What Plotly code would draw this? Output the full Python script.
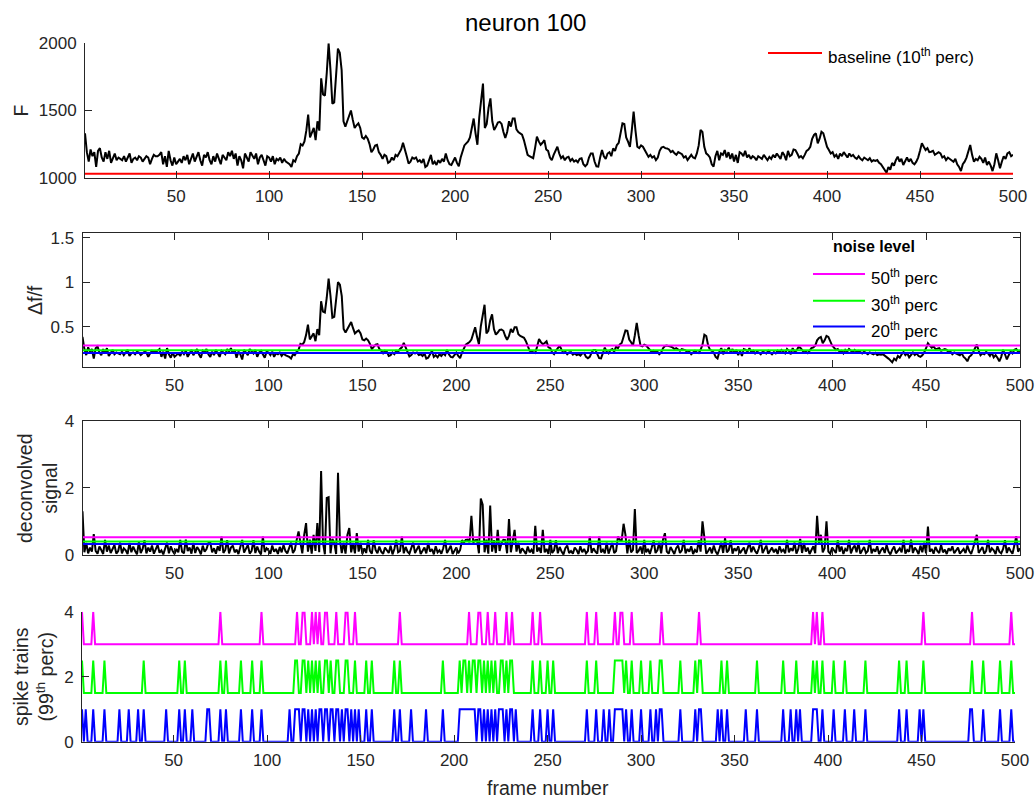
import plotly.graph_objects as go

# ---------------- data ----------------
F = [
    1330, 1190, 1120, 1210, 1160, 1190, 1080, 1200, 1220, 1150,
    1120, 1190, 1140, 1200, 1110, 1150, 1180, 1130, 1150, 1140,
    1130, 1160, 1120, 1150, 1180, 1110, 1140, 1150, 1130, 1160,
    1150, 1120, 1140, 1160, 1150, 1100, 1140, 1170, 1160, 1160,
    1170, 1190, 1100, 1160, 1080, 1200, 1130, 1090, 1150, 1100,
    1120, 1140, 1110, 1160, 1130, 1170, 1100, 1150, 1180, 1120,
    1160, 1190, 1130, 1090, 1170, 1150, 1190, 1130, 1100, 1160,
    1120, 1180, 1140, 1100, 1170, 1150, 1130, 1190, 1160, 1200,
    1140, 1180, 1090, 1160, 1130, 1070, 1180, 1150, 1120, 1190,
    1160, 1140, 1180, 1100, 1150, 1170, 1130, 1090, 1160, 1150,
    1120, 1160, 1100, 1140, 1130, 1150, 1110, 1140, 1120, 1110,
    1100, 1080, 1130, 1120, 1160, 1180, 1250, 1240, 1270, 1350,
    1470, 1300, 1330, 1370, 1280, 1420, 1350, 1740, 1620, 1610,
    1780, 2000, 1800, 1550, 1560, 1750, 1960, 1930, 1800, 1420,
    1380, 1420, 1470, 1500, 1430, 1370, 1390, 1405, 1370, 1300,
    1290, 1310, 1290, 1250, 1190, 1210, 1240, 1245, 1190, 1170,
    1140, 1170, 1160, 1110, 1120, 1150, 1130, 1170, 1160, 1190,
    1210, 1260, 1200, 1160, 1105, 1120, 1150, 1140, 1150, 1120,
    1130, 1110, 1140, 1080, 1090, 1130, 1170, 1100, 1120, 1095,
    1130, 1110, 1140, 1120, 1180, 1130, 1100, 1095, 1130, 1150,
    1110, 1085, 1150, 1200, 1240, 1255, 1270, 1300, 1380, 1440,
    1330, 1245, 1450, 1600, 1700, 1370, 1400, 1520, 1590, 1420,
    1355, 1380, 1410, 1415, 1400, 1340, 1295, 1340, 1420, 1380,
    1440, 1440, 1360, 1340, 1330, 1320, 1280, 1230, 1170, 1160,
    1150, 1145, 1220, 1305, 1270, 1245, 1260, 1280, 1210, 1200,
    1150, 1130, 1170, 1200, 1230, 1180, 1145, 1160, 1130, 1150,
    1155, 1125, 1140, 1120, 1130, 1115, 1140, 1145, 1100, 1085,
    1100, 1150, 1180, 1180, 1120, 1085, 1082, 1150, 1206, 1160,
    1140, 1180, 1190, 1160, 1218, 1200, 1243, 1260, 1330, 1405,
    1400, 1300, 1268, 1230, 1350, 1491, 1350, 1230, 1220, 1240,
    1230, 1200, 1180, 1155, 1170, 1150, 1160, 1131, 1150, 1200,
    1225, 1230, 1220, 1218, 1210, 1190, 1200, 1181, 1170, 1190,
    1181, 1175, 1150, 1160, 1131, 1150, 1170, 1150, 1144, 1181,
    1240, 1355, 1340, 1230, 1181, 1170, 1150, 1100, 1082, 1160,
    1200, 1130, 1180, 1170, 1206, 1150, 1190, 1140, 1180, 1120,
    1170, 1110, 1190, 1180, 1160, 1200, 1150, 1170, 1140, 1160,
    1150, 1130, 1160, 1150, 1140, 1170, 1145, 1130, 1155, 1140,
    1170, 1150, 1180, 1160, 1140, 1190, 1170, 1130, 1200, 1160,
    1170, 1210, 1206, 1180, 1150, 1160, 1144, 1170, 1200, 1210,
    1230, 1290, 1318, 1330, 1256, 1290, 1342, 1330, 1280, 1230,
    1206, 1180, 1190, 1156, 1170, 1140, 1180, 1160, 1190, 1170,
    1150, 1180, 1160, 1170, 1150, 1140, 1160, 1140, 1130, 1150,
    1140, 1130, 1145, 1120, 1130, 1125, 1131, 1110, 1100, 1080,
    1060, 1037, 1080, 1060, 1110, 1090, 1130, 1156, 1120, 1140,
    1095, 1130, 1150, 1120, 1140, 1110, 1100, 1119, 1150, 1200,
    1256, 1230, 1206, 1220, 1190, 1193, 1200, 1170, 1180, 1190,
    1181, 1150, 1160, 1131, 1150, 1140, 1130, 1119, 1140, 1100,
    1080, 1049, 1100, 1119, 1150, 1200, 1243, 1170, 1119, 1140,
    1130, 1156, 1140, 1110, 1150, 1095, 1120, 1090, 1049, 1100,
    1181, 1130, 1070, 1119, 1160, 1140, 1181, 1190, 1160, 1170,
]

deconv = [
    1.30, 0.08, 0.36, 0.05, 0.22, 0.10, 0.62, 0.12, 0.04, 0.25,
    0.15, 0.03, 0.45, 0.10, 0.28, 0.06, 0.18, 0.30, 0.04, 0.12,
    0.37, 0.05, 0.20, 0.14, 0.03, 0.36, 0.08, 0.25, 0.12, 0.02,
    0.38, 0.06, 0.18, 0.44, 0.05, 0.22, 0.10, 0.28, 0.04, 0.16,
    0.30, 0.07, 0.14, 0.02, 0.20, 0.37, 0.05, 0.26, 0.12, 0.03,
    0.18, 0.08, 0.45, 0.10, 0.05, 0.46, 0.12, 0.22, 0.04, 0.36,
    0.06, 0.24, 0.15, 0.02, 0.28, 0.10, 0.18, 0.36, 0.38, 0.08,
    0.20, 0.04, 0.26, 0.12, 0.55, 0.06, 0.15, 0.44, 0.05, 0.22,
    0.28, 0.08, 0.16, 0.03, 0.24, 0.45, 0.07, 0.18, 0.30, 0.04,
    0.12, 0.44, 0.06, 0.25, 0.10, 0.02, 0.55, 0.09, 0.20, 0.14,
    0.04, 0.28, 0.10, 0.18, 0.03, 0.24, 0.08, 0.30, 0.12, 0.05,
    0.20, 0.37, 0.06, 0.15, 0.45, 0.70, 0.36, 0.05, 0.60, 0.95,
    0.10, 0.46, 0.04, 0.60, 0.12, 0.95, 0.08, 2.50, 0.37, 0.02,
    1.70, 1.72, 0.05, 0.48, 0.36, 0.03, 2.45, 0.45, 0.06, 0.37,
    0.04, 0.60, 0.80, 0.08, 0.36, 0.05, 0.65, 0.10, 0.37, 0.03,
    0.20, 0.06, 0.45, 0.12, 0.04, 0.44, 0.15, 0.05, 0.25, 0.10,
    0.03, 0.22, 0.14, 0.06, 0.28, 0.02, 0.18, 0.45, 0.08, 0.12,
    0.55, 0.05, 0.24, 0.10, 0.04, 0.20, 0.37, 0.06, 0.15, 0.28,
    0.03, 0.12, 0.22, 0.05, 0.36, 0.10, 0.18, 0.02, 0.26, 0.08,
    0.14, 0.04, 0.20, 0.45, 0.06, 0.16, 0.28, 0.03, 0.12, 0.22,
    0.05, 0.15, 0.44, 0.37, 0.45, 0.46, 0.38, 1.17, 0.37, 0.44,
    0.45, 0.05, 1.68, 1.50, 0.08, 0.46, 0.04, 1.47, 0.10, 0.44,
    0.06, 0.75, 0.12, 0.36, 0.45, 0.44, 0.05, 1.07, 0.08, 0.46,
    0.75, 0.10, 0.37, 0.05, 0.20, 0.12, 0.03, 0.25, 0.08, 0.16,
    0.04, 0.87, 0.10, 0.22, 0.06, 0.75, 0.08, 0.18, 0.03, 0.45,
    0.06, 0.14, 0.44, 0.05, 0.24, 0.10, 0.02, 0.20, 0.28, 0.06,
    0.12, 0.04, 0.22, 0.15, 0.03, 0.26, 0.08, 0.18, 0.05, 0.12,
    0.55, 0.06, 0.20, 0.10, 0.04, 0.55, 0.08, 0.16, 0.05, 0.37,
    0.04, 0.20, 0.36, 0.06, 0.12, 0.55, 0.45, 0.44, 0.93, 0.60,
    0.05, 0.46, 0.08, 0.15, 1.37, 0.06, 0.12, 0.25, 0.04, 0.45,
    0.08, 0.18, 0.03, 0.22, 0.44, 0.06, 0.14, 0.37, 0.05, 0.46,
    0.65, 0.10, 0.04, 0.24, 0.12, 0.03, 0.20, 0.28, 0.06, 0.14,
    0.45, 0.05, 0.18, 0.10, 0.26, 0.03, 0.15, 0.08, 0.44, 0.10,
    1.00, 0.45, 0.04, 0.12, 0.22, 0.05, 0.28, 0.10, 0.02, 0.18,
    0.37, 0.06, 0.50, 0.08, 0.15, 0.44, 0.04, 0.20, 0.12, 0.26,
    0.05, 0.14, 0.22, 0.03, 0.18, 0.37, 0.08, 0.25, 0.12, 0.04,
    0.20, 0.45, 0.06, 0.15, 0.28, 0.04, 0.12, 0.22, 0.08, 0.18,
    0.03, 0.26, 0.10, 0.16, 0.05, 0.45, 0.08, 0.20, 0.12, 0.37,
    0.04, 0.18, 0.48, 0.06, 0.36, 0.10, 0.22, 0.03, 0.15, 0.26,
    0.05, 1.17, 0.36, 0.60, 0.08, 0.20, 1.00, 0.10, 0.04, 0.22,
    0.14, 0.06, 0.44, 0.10, 0.25, 0.03, 0.18, 0.12, 0.45, 0.05,
    0.20, 0.28, 0.08, 0.37, 0.04, 0.16, 0.24, 0.06, 0.12, 0.45,
    0.05, 0.18, 0.10, 0.26, 0.03, 0.14, 0.22, 0.06, 0.30, 0.10,
    0.02, 0.16, 0.25, 0.05, 0.12, 0.20, 0.08, 0.45, 0.04, 0.15,
    0.10, 0.46, 0.06, 0.22, 0.14, 0.03, 0.28, 0.08, 0.37, 0.05,
    0.85, 0.10, 0.18, 0.04, 0.24, 0.12, 0.06, 0.30, 0.08, 0.16,
    0.03, 0.20, 0.12, 0.26, 0.05, 0.15, 0.22, 0.04, 0.10, 0.18,
    0.06, 0.28, 0.12, 0.03, 0.20, 0.37, 0.60, 0.06, 0.15, 0.24,
    0.04, 0.12, 0.45, 0.08, 0.20, 0.14, 0.03, 0.26, 0.10, 0.05,
    0.18, 0.44, 0.06, 0.22, 0.12, 0.04, 0.28, 0.56, 0.10, 0.20,
]

frames = list(range(1, len(F) + 1))

BASELINE_F = 1030          # baseline (10th perc) of F
DFF_OFFSET = 935           # Δf/f = (F - offset) / scale
DFF_SCALE = 1024

noise_names = ["50", "30", "20"]
noise_colors = ["#FF00FF", "#00FF00", "#0000FF"]
noise_dff = [0.29, 0.235, 0.205]      # noise levels drawn on Δf/f panel
noise_deconv = [0.53, 0.40, 0.33]     # noise levels drawn on deconvolved panel
train_offsets = [3.0, 1.5, 0.0]       # vertical offsets of the spike trains

x_ticks = [50, 100, 150, 200, 250, 300, 350, 400, 450, 500]
y1_ticks = [1000, 1500, 2000]
y2_ticks = [0.5, 1, 1.5]
y3_ticks = [0, 2, 4]
y4_ticks = [0, 2, 4]

dff = [(v - DFF_OFFSET) / DFF_SCALE for v in F]
trains = [[off + (1 if d > thr else 0) for d in deconv]
          for thr, off in zip(noise_deconv, train_offsets)]

# ---------------- figure ----------------
W, H = 1035, 799
def fx(p):
    return p / W
def fy(p):
    return 1 - p / H

FONT = "Liberation Sans, Arial, Helvetica, sans-serif"
AX = "#262626"
tickfont = dict(family=FONT, size=17, color=AX)

fig = go.Figure()
LW = 2

# panel 1
fig.add_trace(go.Scatter(x=frames, y=F, mode="lines", line=dict(color="black", width=LW),
                         xaxis="x", yaxis="y"))
fig.add_trace(go.Scatter(x=[frames[0], frames[-1]], y=[BASELINE_F, BASELINE_F], mode="lines",
                         line=dict(color="#FF0000", width=LW), xaxis="x", yaxis="y"))
# panel 2
fig.add_trace(go.Scatter(x=frames, y=dff, mode="lines", line=dict(color="black", width=LW),
                         xaxis="x2", yaxis="y2"))
for lvl, c in zip(noise_dff, noise_colors):
    fig.add_trace(go.Scatter(x=[frames[0], frames[-1]], y=[lvl, lvl], mode="lines",
                             line=dict(color=c, width=LW), xaxis="x2", yaxis="y2"))
# panel 3
fig.add_trace(go.Scatter(x=frames, y=deconv, mode="lines", line=dict(color="black", width=LW),
                         xaxis="x3", yaxis="y3"))
for lvl, c in zip(noise_deconv, noise_colors):
    fig.add_trace(go.Scatter(x=[frames[0], frames[-1]], y=[lvl, lvl], mode="lines",
                             line=dict(color=c, width=LW), xaxis="x3", yaxis="y3"))
# panel 4
for tr, c in zip(trains, noise_colors):
    fig.add_trace(go.Scatter(x=frames, y=tr, mode="lines", line=dict(color=c, width=LW),
                             xaxis="x4", yaxis="y4"))


def xaxis(left, right, anchor, mirror):
    return dict(domain=[fx(left), fx(right)], anchor=anchor, range=[1, 500],
                tickmode="array", tickvals=x_ticks, ticks="inside", ticklen=7,
                tickwidth=1, tickcolor=AX, showline=True, linecolor=AX, linewidth=1,
                mirror=mirror, showgrid=False, zeroline=False, tickfont=tickfont,
                ticklabelstandoff=3, automargin=False, ticklabeloverflow="allow")


def yaxis(top, bottom, anchor, rng, ticks, mirror):
    return dict(domain=[fy(bottom), fy(top)], anchor=anchor, range=rng,
                tickmode="array", tickvals=ticks, ticks="inside", ticklen=7,
                tickwidth=1, tickcolor=AX, showline=True, linecolor=AX, linewidth=1,
                mirror=mirror, showgrid=False, zeroline=False, tickfont=tickfont,
                ticklabelstandoff=4, automargin=False, ticklabeloverflow="allow")


layout = dict(
    width=W, height=H, autosize=False,
    margin=dict(l=0, r=0, t=0, b=0, pad=0, autoexpand=False),
    paper_bgcolor="white", plot_bgcolor="white",
    showlegend=False, hovermode=False,
    font=dict(family=FONT, color=AX),
    xaxis=xaxis(85, 1013, "y", False),
    yaxis=yaxis(43.3, 177.7, "x", [1000, 2000], y1_ticks, False),
    xaxis2=xaxis(82.5, 1020, "y2", "ticks"),
    yaxis2=yaxis(232.7, 366.7, "x2", [0.0506, 1.556], y2_ticks, "ticks"),
    xaxis3=xaxis(82.5, 1020, "y3", "ticks"),
    yaxis3=yaxis(420.7, 555, "x3", [0, 4], y3_ticks, "ticks"),
    xaxis4=xaxis(82, 1015, "y4", False),
    yaxis4=yaxis(611.7, 741.7, "x4", [0, 4], y4_ticks, False),
)
fig.update_layout(**layout)

ann = []
def text(x, y, s, size, color=AX, angle=0, xanchor="center", yanchor="middle"):
    ann.append(dict(x=fx(x), y=fy(y), xref="paper", yref="paper", text=s, showarrow=False,
                    textangle=angle, xanchor=xanchor, yanchor=yanchor,
                    font=dict(family=FONT, size=size, color=color)))

text(525, 22, "neuron 100", 24, color="black")
text(20, 110.5, "F", 19.5, angle=-90)
text(35, 300, "Δf/f", 19.5, angle=-90)
text(37, 488, "deconvolved<br>signal", 19.5, angle=-90)
text(33, 677, "spike trains<br>(99<sup>th</sup> perc)", 19.5, angle=-90)
text(548, 788, "frame number", 19.5)

# legend of panel 1
shapes = [dict(type="line", xref="paper", yref="paper", x0=fx(768), x1=fx(822),
               y0=fy(53), y1=fy(53), line=dict(color="#FF0000", width=LW))]
text(825.5, 56, "baseline (10<sup>th</sup> perc)", 17, color="black", xanchor="left")

# legend of panel 2
text(874, 247, "<b>noise level</b>", 16, color="black")
for name, c, yy in zip(noise_names, noise_colors, [274, 300.7, 326.5]):
    shapes.append(dict(type="line", xref="paper", yref="paper", x0=fx(813), x1=fx(865),
                       y0=fy(yy), y1=fy(yy), line=dict(color=c, width=LW)))
    text(869, yy + 3, name + "<sup>th</sup> perc", 17, color="black", xanchor="left")

fig.update_layout(annotations=ann, shapes=shapes)
fig.write_html("out.html",
               config={"displayModeBar": False, "staticPlot": True},
               post_script="document.body.style.margin='0px';"
                           "document.body.style.overflow='hidden';")
